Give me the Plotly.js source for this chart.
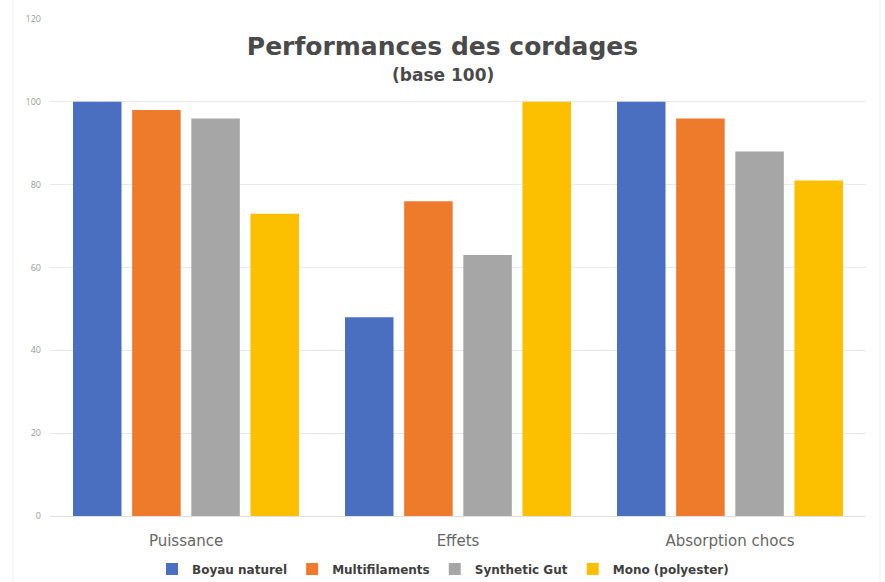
<!DOCTYPE html>
<html>
<head>
<meta charset="utf-8">
<script src="https://cdn.plot.ly/plotly-3.0.1.min.js"></script>
<style>
html,body{margin:0;padding:0;background:#fff;}
#chart{width:885px;height:582px;}
</style>
</head>
<body>
<div id="chart"></div>
<script>
const categories = ["Puissance", "Effets", "Absorption chocs"];
const seriesNames = ["Boyau naturel", "Multifilaments", "Synthetic Gut", "Mono (polyester)"];
const boyau = [100, 48, 100];
const multi = [98, 76, 96];
const synth = [96, 63, 88];
const mono = [73, 100, 81];
const yTicks = [0, 20, 40, 60, 80, 100, 120];

const colors = ["#4A6FC0", "#EE7A2C", "#A6A6A6", "#FCC000"];
const values = [boyau, multi, synth, mono];

const traces = values.map((v, i) => ({
  type: "bar",
  name: seriesNames[i],
  x: categories,
  y: v,
  marker: {color: colors[i]},
  hoverinfo: "skip"
}));

const boldFont = "'DejaVu Sans', sans-serif";

const layout = {
  width: 885,
  height: 582,
  paper_bgcolor: "#fff",
  plot_bgcolor: "#fff",
  margin: {l: 50, r: 19, t: 19, b: 66},
  barmode: "group",
  bargap: 0.13,
  bargroupgap: 0.18,
  title: {
    text: "Performances des cordages",
    font: {family: boldFont, size: 25, color: "#4A4A4A", weight: 700},
    x: 0.5, xanchor: "center",
    y: 1 - 46 / 582, yref: "container", yanchor: "middle"
  },
  annotations: [{
    text: "(base 100)",
    xref: "paper", yref: "paper",
    x: (443 - 50) / 816, y: (516 - 75) / 497,
    xanchor: "center", yanchor: "middle",
    showarrow: false,
    font: {family: boldFont, size: 17, color: "#4A4A4A", weight: 700}
  }],
  xaxis: {
    type: "category",
    showgrid: false,
    showline: false,
    ticks: "",
    tickfont: {family: "'DejaVu Sans', sans-serif", size: 15, color: "#666666"},
    ticklabelstandoff: 14
  },
  yaxis: {
    range: [0, 120],
    tickvals: yTicks,
    ticktext: yTicks.map(String),
    showgrid: true,
    gridcolor: "#E8E8E8",
    gridwidth: 1,
    zeroline: true,
    zerolinecolor: "#E0E0E0",
    zerolinewidth: 1,
    showline: false,
    ticks: "",
    tickfont: {family: "'Open Sans', sans-serif", size: 9, color: "#9A9A9A"},
    ticklabelstandoff: 8
  },
  showlegend: true,
  legend: {
    orientation: "h",
    x: (443 - 50) / 816, xanchor: "center",
    yref: "container",
    y: 1 - 569 / 582, yanchor: "middle",
    font: {family: boldFont, size: 12, color: "#404040", weight: 700},
    traceorder: "normal"
  },
  shapes: [{
    type: "rect", xref: "paper", yref: "paper",
    x0: -37 / 816, x1: 1 + 14 / 816, y0: -80 / 497, y1: 1 + 30 / 497,
    line: {color: "#EEEEEE", width: 1}, fillcolor: "rgba(0,0,0,0)", layer: "below"
  }]
};

Plotly.newPlot("chart", traces, layout, {displayModeBar: false, staticPlot: true});
</script>
</body>
</html>
